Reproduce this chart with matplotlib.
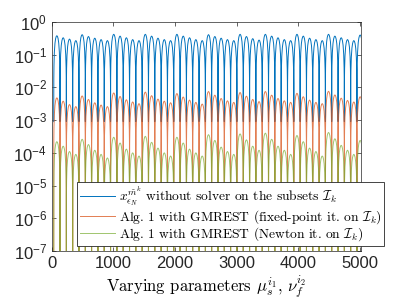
import numpy as np
import matplotlib
matplotlib.use("Agg")
import matplotlib.pyplot as plt

plt.rcParams['font.family'] = 'Liberation Sans'
plt.rcParams['mathtext.fontset'] = 'cm'

# lobe edges (x positions of the cusps)
lobe_edges = [30, 132, 235, 338, 440, 543, 645, 748, 850, 953, 1056, 1158, 1261,
              1363, 1466, 1568, 1671, 1774, 1876, 1979, 2081, 2184, 2286, 2389,
              2492, 2594, 2697, 2799, 2902, 3004, 3107, 3210, 3312, 3415, 3517,
              3620, 3722, 3825, 3928, 4030, 4133, 4235, 4338, 4440, 4543, 4646,
              4748, 4851, 4953, 5056]

# peak value of each lobe
blue_peaks = [0.38, 0.33, 0.30, 0.27,
              0.41, 0.36, 0.32, 0.29, 0.27,
              0.42, 0.37, 0.33, 0.29, 0.27,
              0.42, 0.37, 0.32, 0.29, 0.27,
              0.42, 0.37, 0.33, 0.29, 0.27,
              0.41, 0.36, 0.32, 0.29, 0.27,
              0.42, 0.36, 0.31, 0.28,
              0.42, 0.37, 0.33, 0.29, 0.27,
              0.42, 0.37, 0.32, 0.29, 0.27,
              0.42, 0.37, 0.33, 0.29, 0.27,
              0.40]
orange_peaks = [4.8e-3, 3.8e-3, 3.0e-3, 2.6e-3,
                5.5e-3, 4.3e-3, 3.4e-3, 2.9e-3, 2.6e-3,
                6.8e-3, 5.3e-3, 4.2e-3, 3.6e-3, 3.2e-3,
                7.2e-3, 5.6e-3, 4.4e-3, 3.8e-3, 3.4e-3,
                6.5e-3, 5.1e-3, 4.1e-3, 3.5e-3, 3.1e-3,
                7.5e-3, 5.8e-3, 4.6e-3, 3.9e-3, 3.5e-3,
                7.0e-3, 5.4e-3, 4.3e-3, 3.7e-3,
                7.5e-3, 5.8e-3, 4.6e-3, 3.9e-3, 3.5e-3,
                6.6e-3, 5.2e-3, 4.1e-3, 3.5e-3, 3.2e-3,
                7.6e-3, 5.9e-3, 4.7e-3, 4.0e-3, 3.6e-3,
                5.2e-3]
green_peaks = [2.2e-4, 1.6e-4, 1.1e-4, 9e-5,
               2.6e-4, 1.8e-4, 1.2e-4, 9e-5, 7e-5,
               3.0e-4, 2.0e-4, 1.3e-4, 1.0e-4, 8e-5,
               3.2e-4, 2.1e-4, 1.4e-4, 1.0e-4, 8e-5,
               3.0e-4, 2.0e-4, 1.3e-4, 1.0e-4, 8e-5,
               3.6e-4, 2.4e-4, 1.5e-4, 1.1e-4, 9e-5,
               3.8e-4, 2.5e-4, 1.6e-4, 1.2e-4,
               4.0e-4, 2.6e-4, 1.6e-4, 1.2e-4, 9e-5,
               3.4e-4, 2.2e-4, 1.4e-4, 1.1e-4, 8e-5,
               4.2e-4, 2.7e-4, 1.7e-4, 1.2e-4, 9e-5,
               2.4e-4]

# depth of the cusps
blue_dip = 9e-4
orange_dip = 1e-9
green_dip = 1e-9

# relative shape of one lobe (fraction along lobe, fraction of peak)
lobe_frac = [0.0, 0.015, 0.04, 0.1, 0.2, 0.3, 0.4, 0.5, 0.6, 0.7, 0.8, 0.9, 0.96, 0.985]
lobe_shape = [0.0, 0.05, 0.125, 0.31, 0.59, 0.81, 0.95, 1.0, 0.95, 0.81, 0.59, 0.31, 0.125, 0.05]

labels = [r'$x_{\epsilon_N}^{\tilde{m}^k}$ without solver on the subsets $\mathcal{I}_k$',
          r'Alg. 1 with GMREST (fixed-point it. on $\mathcal{I}_k$)',
          r'Alg. 1 with GMREST (Newton it. on $\mathcal{I}_k$)']


def build_series(peaks, dip):
    xs, ys = [], []
    for i, p in enumerate(peaks):
        a, b = lobe_edges[i], lobe_edges[i + 1]
        for f, s in zip(lobe_frac, lobe_shape):
            xs.append(a + f * (b - a))
            ys.append(dip if s == 0 else p * s)
    xs.append(lobe_edges[-1])
    ys.append(dip)
    return xs, ys


fig = plt.figure(figsize=(3.99, 2.99), dpi=100)
ax = fig.add_axes([0.130, 0.1605, 0.775, 0.766])

bx, by = build_series(blue_peaks, blue_dip)
ox, oy = build_series(orange_peaks, orange_dip)
gx, gy = build_series(green_peaks, green_dip)

ax.plot(bx, by, color='#0072BD', lw=0.7, label=labels[0])
ax.plot(ox, oy, color='#D95319', lw=0.7, alpha=0.75, label=labels[1])
ax.plot(gx, gy, color='#77AC30', lw=0.7, alpha=0.7, label=labels[2])

ax.set_yscale('log')
ax.set_ylim(1e-7, 1)
ax.set_xlim(0, 5020)
ax.set_xticks([0, 1000, 2000, 3000, 4000, 5000])
ax.set_yticks([1e-7, 1e-6, 1e-5, 1e-4, 1e-3, 1e-2, 1e-1, 1e0])

ax.tick_params(which='both', direction='in', top=True, right=True,
               labelsize=12, width=0.5, colors='#262626')
ax.tick_params(which='major', length=3)
ax.tick_params(which='minor', length=1.5)
for sp in ax.spines.values():
    sp.set_linewidth(0.5)
    sp.set_color('#262626')

ax.set_xlabel(r'Varying parameters $\mu_s^{i_1}$, $\nu_f^{i_2}$',
              family='cmr10', fontsize=12, labelpad=2)

leg = ax.legend(loc='lower left', bbox_to_anchor=(0.193, 0.177),
                bbox_transform=fig.transFigure, prop={'family': 'cmr10', 'size': 9.7},
                fancybox=False, framealpha=1, edgecolor='#262626',
                handlelength=2.6, handletextpad=0.3, borderpad=0.2,
                labelspacing=0.0, borderaxespad=0)
leg.get_frame().set_linewidth(0.6)
leg.set_clip_on(False)

fig.savefig('out.png', dpi=100)
